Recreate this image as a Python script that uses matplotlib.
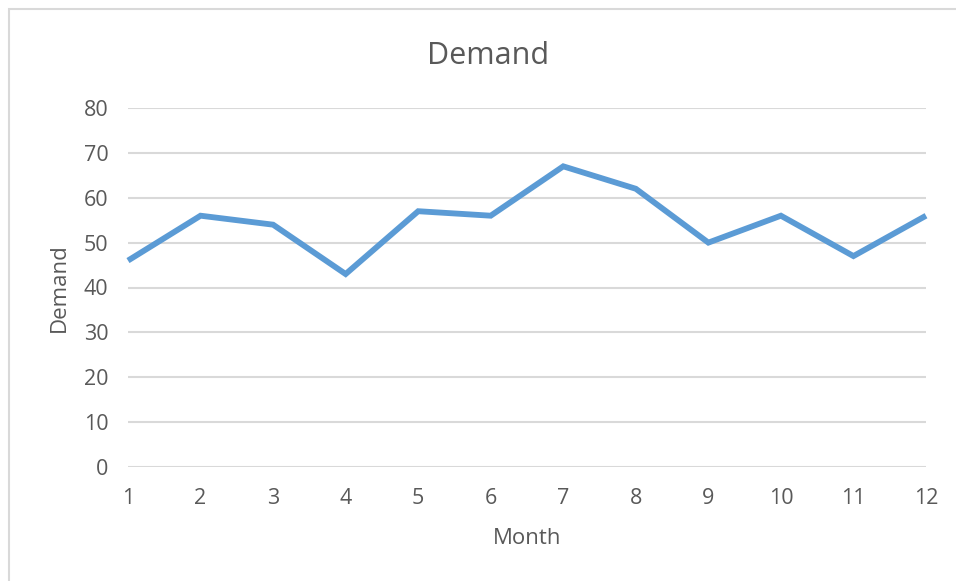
import matplotlib
matplotlib.use("Agg")
import matplotlib.pyplot as plt
from matplotlib.patches import Rectangle

months = [1, 2, 3, 4, 5, 6, 7, 8, 9, 10, 11, 12]
demand = [46, 56, 54, 43, 57, 56, 67, 62, 50, 56, 47, 56]
yticks = [0, 10, 20, 30, 40, 50, 60, 70, 80]

plt.rcParams["font.family"] = ["Open Sans", "DejaVu Sans"]
TXT = "#595959"

W, H = 956, 581
fig = plt.figure(figsize=(W / 100, H / 100), dpi=100)
ax = fig.add_axes([128 / W, 1 - 467 / H, (926 - 128) / W, (467 - 108) / H])

# chart frame (cropped on right/bottom)
fig.patches.append(Rectangle((8.5 / W, -0.1), 1.2, 1.1 - 8.5 / H, transform=fig.transFigure,
                             fill=False, edgecolor="#d9d9d9", lw=1.5))

ax.plot(months, demand, color="#5b9bd5", lw=4.2, solid_joinstyle="miter", solid_capstyle="butt",
        clip_on=False, zorder=3)

ax.set_xlim(1, 12)
ax.set_ylim(0, 80)
ax.set_xticks(months)
ax.set_yticks(yticks)
ax.grid(axis="y", color="#d9d9d9", lw=1.5)
ax.set_axisbelow(True)
for s in ax.spines.values():
    s.set_visible(False)
ax.tick_params(length=0, labelsize=15.5, colors=TXT)
ax.tick_params(axis="y", pad=14)
ax.tick_params(axis="x", pad=15)

fig.text(488 / W, 1 - 64 / H, "Demand", fontsize=22, color=TXT, ha="center", va="baseline")
ax.set_xlabel("Month", fontsize=16, color=TXT, labelpad=14)
ax.set_ylabel("Demand", fontsize=16, color=TXT, labelpad=10)

fig.savefig("out.png", dpi=100)
